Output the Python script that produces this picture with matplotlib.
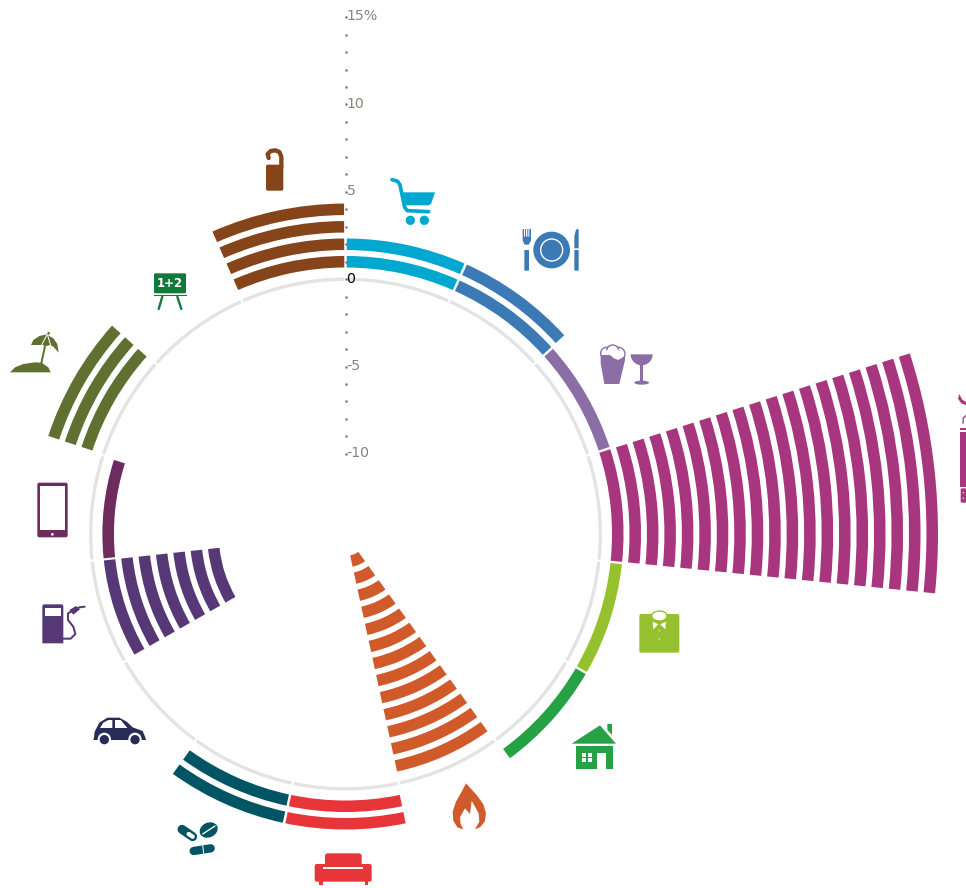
import numpy as np
import matplotlib
matplotlib.use("Agg")
import matplotlib.pyplot as plt
from matplotlib.patches import Polygon, Circle, Ellipse, Wedge, FancyBboxPatch

# spending groups, clockwise from the top. one ring = one percentage point
categories = ["food", "restaurants", "alcohol", "tobacco", "clothing", "housing",
              "gas", "furnishings", "health", "cars", "fuel", "phones",
              "holidays", "education", "hotels"]
values = [2, 2, 1, 19, 1, 1, -13, 2, 2, 0, -7, -1, 3, 0, 4]
colors = ["#00a7cf", "#3b7ab5", "#8c6ea6", "#a8367f", "#95c12e", "#26a146",
          "#d15a2b", "#e8353a", "#005565", "#2a2c58", "#563877", "#6e2b5e",
          "#607030", "#11793b", "#86441a"]
axis_ticks = list(range(-10, 16))
tick_labels = {15: "15%", 10: "10", 5: "5", 0: "0", -5: "-5", -10: "-10"}

W, H = 966, 888
CX, CY = 345.5, 534.0
PX_PER_UNIT = 17.47
ZERO_R = 254.8
SPAN = 700

fig = plt.figure(figsize=(W / 100, H / 100), dpi=100)
fig.patch.set_facecolor("white")
ax = fig.add_axes([(CX - SPAN) / W, 1 - (CY + SPAN) / H, 2 * SPAN / W, 2 * SPAN / H],
                  projection="polar")
ax.set_theta_zero_location("N")
ax.set_theta_direction(-1)

step = 360 / len(values)
sector = np.deg2rad(step)
pad = np.deg2rad(0.5)
bar_h = 0.66
ring_h = 0.19

for i, v in enumerate(values):
    theta = (i + 0.5) * sector
    # grey zero ring is there for every group
    ax.bar(theta, ring_h, width=sector - pad, bottom=-ring_h / 2, color="#e3e3e3", linewidth=0)
    sign = 1 if v > 0 else -1
    for k in range(1, abs(v) + 1):
        ax.bar(theta, bar_h, width=sector - pad, bottom=sign * k - bar_h / 2,
               color=colors[i], linewidth=0)

ax.plot(np.zeros(len(axis_ticks)), axis_ticks, ls="", marker="o", ms=0.8, color="#77776f", zorder=5)
for v, lab in tick_labels.items():
    ax.annotate(lab, (0, v), xytext=(0.7, 0.5), textcoords="offset points", va="center", ha="left",
                fontsize=10.2, color="black" if v == 0 else "#85857f", zorder=6)

rmin = -ZERO_R / PX_PER_UNIT
ax.set_rorigin(rmin)
ax.set_ylim(rmin, rmin + SPAN / PX_PER_UNIT)
ax.set_position([(CX - SPAN) / W, 1 - (CY + SPAN) / H, 2 * SPAN / W, 2 * SPAN / H])
ax.axis("off")

# icons go on a second axes in pixel units, coordinates are from the 3x crops
ov = fig.add_axes([0, 0, 1, 1])
ov.set_xlim(0, W)
ov.set_ylim(H, 0)
ov.axis("off")


def poly(o, pts, c):
    ov.add_patch(Polygon([(o[0] + x / 3, o[1] + y / 3) for x, y in pts], closed=True, fc=c, ec="none"))


def line(o, pts, c, w):
    xs = [o[0] + p[0] / 3 for p in pts]
    ys = [o[1] + p[1] / 3 for p in pts]
    ov.plot(xs, ys, color=c, lw=w / 3 * 0.72, solid_capstyle="round", solid_joinstyle="round")


def circ(o, x, y, r, c, ec="none", lw=0):
    ov.add_patch(Circle((o[0] + x / 3, o[1] + y / 3), r / 3, fc=c, ec=ec, lw=lw))


def box(o, x0, y0, x1, y1, rad, c):
    ov.add_patch(FancyBboxPatch((o[0] + (x0 + rad) / 3, o[1] + (y0 + rad) / 3),
                                (x1 - x0 - 2 * rad) / 3, (y1 - y0 - 2 * rad) / 3,
                                boxstyle="round,pad=%f,rounding_size=%f" % (rad / 3, rad / 3),
                                fc=c, ec="none"))


# cart
o = (330, 0)
c = colors[0]
line(o, [(186, 539), (203, 544), (210, 555), (224, 622), (232, 632), (296, 635)], c, 11)
poly(o, [(212, 577), (315, 577), (303, 612), (295, 616), (222, 616)], c)
circ(o, 241, 661, 14, c)
circ(o, 283, 661, 14, c)

# plate, fork, knife
o = (510, 220)
c = colors[1]
circ(o, 125, 90, 55, c)
circ(o, 125, 90, 33, "none", ec="white", lw=1.0)
poly(o, [(38, 27), (42, 27), (42, 50), (45, 50), (45, 27), (48, 27), (48, 50), (52, 50), (52, 27),
         (55, 27), (55, 50), (58, 50), (58, 27), (63, 27), (63, 62), (56, 74), (44, 74), (38, 62)], c)
box(o, 43, 90, 57, 152, 2, c)
poly(o, [(193, 85), (193, 48), (198, 30), (203, 26), (206, 30), (206, 85)], c)
box(o, 193, 90, 206, 152, 2, c)

# beer and wine
c = colors[2]
circ(o, 325, 402, 20, "white", ec=c, lw=1.0)
circ(o, 290, 400, 18, "white", ec=c, lw=1.0)
circ(o, 308, 393, 18, "white", ec=c, lw=1.0)
circ(o, 305, 403, 18, "white")
circ(o, 322, 405, 15, "white")
circ(o, 292, 405, 14, "white")
poly(o, [(272, 405), (300, 405), (312, 415), (325, 420), (345, 408), (345, 420), (328, 492), (283, 492),
         (272, 430)], c)
ov.add_patch(Wedge((o[0] + 395 / 3, o[1] + 403 / 3), 33 / 3, 0, 180, fc=c, ec="none"))
poly(o, [(391, 435), (400, 435), (400, 485), (391, 485)], c)
ov.add_patch(Ellipse((o[0] + 395 / 3, o[1] + 488 / 3), 44 / 3, 12 / 3, fc=c, ec="none"))

# cigarette, runs off the edge
o = (936, 380)
c = colors[3]
poly(o, [(72, 155), (90, 155), (90, 320), (72, 320)], c)
poly(o, [(72, 143), (90, 143), (90, 149), (72, 149)], c)
box(o, 74, 325, 92, 368, 3, c)
circ(o, 82, 338, 2, "white")
circ(o, 82, 355, 2, "white")
poly(o, [(70, 42), (78, 58), (92, 68), (92, 76), (76, 70), (66, 56)], c)
line(o, [(81, 130), (82, 114), (92, 105)], c, 4)

# shirt
o = (580, 340)
c = colors[4]
box(o, 178, 822, 298, 938, 6, c)
ov.add_patch(Ellipse((o[0] + 238 / 3, o[1] + 828 / 3), 46 / 3, 30 / 3, fc="white", ec=c, lw=1.0))
poly(o, [(218, 845), (235, 853), (220, 868)], "white")
poly(o, [(258, 845), (241, 853), (256, 868)], "white")
circ(o, 238, 872, 2, "white")
circ(o, 238, 897, 2, "white")

# house
o = (280, 540)
c = colors[5]
poly(o, [(875, 611), (960, 556), (1008, 611)], c)
poly(o, [(982, 552), (996, 552), (996, 585), (982, 570)], c)
poly(o, [(888, 618), (1000, 618), (1000, 686), (978, 686), (978, 638), (950, 638), (950, 686), (888, 686)], c)
poly(o, [(905, 640), (919, 640), (919, 651), (905, 651)], "white")
poly(o, [(923, 640), (937, 640), (937, 651), (923, 651)], "white")
poly(o, [(905, 654), (919, 654), (919, 665), (905, 665)], "white")
poly(o, [(923, 654), (937, 654), (937, 665), (923, 665)], "white")

# flame
c = colors[6]
poly(o, [(558, 730), (590, 765), (610, 793), (618, 820), (614, 845), (600, 862), (585, 868), (598, 845),
         (596, 820), (585, 800), (575, 782), (570, 822), (555, 805), (540, 832), (542, 852), (550, 868),
         (532, 862), (520, 842), (518, 815), (528, 785), (545, 755)], c)

# sofa
c = colors[7]
box(o, 135, 940, 245, 980, 8, c)
box(o, 104, 972, 275, 1025, 6, c)
poly(o, [(130, 982), (248, 982), (248, 988), (130, 988)], "white")
poly(o, [(118, 1022), (130, 1022), (130, 1035), (118, 1035)], c)
poly(o, [(254, 1022), (265, 1022), (265, 1035), (254, 1035)], c)

# pills, car, pump, phone
o = (0, 450)
c = colors[8]
line(o, [(546, 1138), (578, 1160)], c, 27)
line(o, [(566, 1152), (578, 1160)], "white", 13)
ov.add_patch(Ellipse((626 / 3, 450 + 1140 / 3), 56 / 3, 44 / 3, angle=-25, fc=c, ec="none"))
line(o, [(608, 1152), (645, 1128)], "white", 4)
line(o, [(581, 1203), (632, 1195)], c, 25)
line(o, [(608, 1186), (611, 1210)], "white", 3)

c = colors[9]
poly(o, [(282, 862), (284, 845), (298, 818), (322, 803), (358, 803), (380, 815), (398, 832), (428, 843),
         (436, 862), (438, 870), (280, 870)], c)
poly(o, [(300, 834), (310, 818), (325, 810), (337, 810), (337, 834)], "white")
poly(o, [(345, 810), (362, 810), (382, 834), (345, 834)], "white")
circ(o, 313, 868, 20, "white")
circ(o, 405, 868, 20, "white")
circ(o, 313, 869, 14, c)
circ(o, 405, 869, 14, c)

c = colors[10]
poly(o, [(130, 463), (187, 463), (190, 468), (190, 580), (127, 580), (127, 468)], c)
poly(o, [(135, 474), (184, 474), (184, 497), (135, 497)], "white")
line(o, [(190, 566), (212, 566), (226, 552), (220, 530), (204, 510), (204, 490), (222, 480), (238, 472),
         (254, 470)], c, 6)
poly(o, [(208, 480), (228, 468), (240, 478), (220, 494)], c)

c = colors[11]
box(o, 112, 98, 203, 262, 6, c)
poly(o, [(120, 108), (195, 108), (195, 240), (120, 240)], "white")
circ(o, 157, 253, 4, "white")

# island, board, door hanger
o = (0, 130)
c = colors[12]
poly(o, [(30, 727), (45, 712), (70, 702), (105, 697), (125, 698), (145, 712), (152, 727)], c)
line(o, [(135, 648), (124, 700)], c, 6)
poly(o, [(93, 645), (100, 630), (118, 618), (140, 613), (160, 625), (172, 642), (176, 668), (160, 650),
         (150, 645), (140, 648), (125, 645), (110, 645)], c)
line(o, [(140, 616), (125, 645)], "white", 3)
line(o, [(143, 616), (152, 646)], "white", 3)
circ(o, 146, 610, 4, c)

c = colors[13]
box(o, 462, 430, 558, 490, 4, c)
ov.text(510 / 3, 130 + 461 / 3, "1+2", color="white", fontsize=8.5, fontweight="bold",
        ha="center", va="center")
poly(o, [(462, 494), (560, 494), (560, 499), (462, 499)], c)
line(o, [(487, 500), (476, 537)], c, 7)
line(o, [(532, 500), (544, 537)], c, 7)

c = colors[14]
box(o, 798, 104, 850, 182, 5, c)
line(o, [(806, 84), (803, 72), (812, 63), (826, 61), (838, 66), (844, 80), (844, 112)], c, 13)

fig.savefig("out.png", dpi=100)
